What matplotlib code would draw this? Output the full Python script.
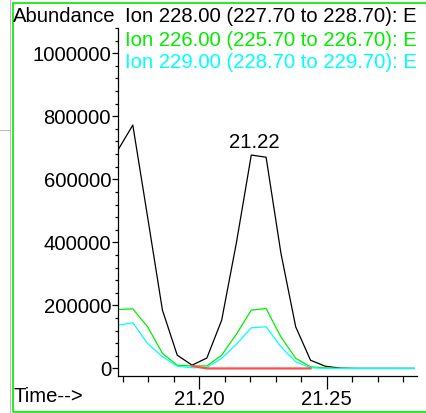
import numpy as np
import matplotlib
matplotlib.use('Agg')
import matplotlib.pyplot as plt
from matplotlib.ticker import MultipleLocator, FormatStrFormatter
from matplotlib.lines import Line2D
from matplotlib.patches import Rectangle

plt.rcParams['font.family'] = ['Liberation Sans', 'DejaVu Sans']

# Retention times (min) of the scans
time = [21.1682, 21.1740, 21.1798, 21.1856, 21.1914, 21.1972, 21.2030,
        21.2088, 21.2146, 21.2204, 21.2262, 21.2320, 21.2378, 21.2436,
        21.2494, 21.2552, 21.2610, 21.2668, 21.2726, 21.2784, 21.2842]

# Extracted ion abundances
ion_228 = [693000, 772000, 480000, 185000, 42000, 10500, 33000, 153000,
           400000, 677000, 670000, 366000, 132000, 26000, 7000, 1000,
           0, 0, 0, 0, 0]
ion_226 = [187000, 189000, 132000, 48000, 10000, 8000, 8000, 42000,
           109000, 185000, 190000, 100000, 32000, 5000, 2000, 0,
           0, 0, 0, 0, 0]
ion_229 = [137000, 145000, 79000, 37000, 7000, 2000, 3000, 32000,
           77000, 129000, 132000, 69000, 21000, 2000, 0, 0,
           0, 0, 0, 0, 0]
ion_other = [np.nan, np.nan, np.nan, np.nan, np.nan, 8000, 0, 0, 0, 0, 0,
             0, 0, 0, np.nan, np.nan, np.nan, np.nan, np.nan, np.nan, np.nan]

legend_labels = ['Ion 228.00 (227.70 to 228.70): E',
                 'Ion 226.00 (225.70 to 226.70): E',
                 'Ion 229.00 (228.70 to 229.70): E']
peak_label = '21.22'
peak_idx = 9

W, H = 426, 413
fig = plt.figure(figsize=(W / 100, H / 100), dpi=100, facecolor='white')
ax = fig.add_axes([118 / W, 1 - 376 / H, 299 / W, 348 / H])

fs = 14.6
ax.plot(time, ion_228, color='black', lw=0.9)
ax.plot(time, ion_226, color='#00ee00', lw=0.9)
ax.plot(time, ion_229, color='#00ffff', lw=0.9)
ax.plot(time, ion_other, color='#ff5050', lw=1.6)

ax.set_xlim(21.1682, 21.2853)
ax.set_ylim(-24000, 1080000)

# Only the left and bottom axis lines
for s in ['top', 'right']:
    ax.spines[s].set_visible(False)
for s in ['left', 'bottom']:
    ax.spines[s].set_linewidth(0.9)

ax.xaxis.set_major_locator(MultipleLocator(0.05))
ax.xaxis.set_minor_locator(MultipleLocator(0.01))
ax.xaxis.set_major_formatter(FormatStrFormatter('%.2f'))
ax.yaxis.set_major_locator(MultipleLocator(200000))
ax.yaxis.set_minor_locator(MultipleLocator(40000))
ax.yaxis.set_major_formatter(FormatStrFormatter('%d'))
ax.tick_params(axis='x', which='major', length=9, width=0.9, pad=1, labelsize=fs)
ax.tick_params(axis='x', which='minor', length=4.5, width=0.9)
ax.tick_params(axis='y', which='major', length=4, width=0.9, pad=1, labelsize=fs)
ax.tick_params(axis='y', which='minor', length=2, width=0.9)

# Peak label
ax.annotate(peak_label, (time[peak_idx], ion_228[peak_idx]), xytext=(2, 2),
            textcoords='offset points', ha='center', va='bottom', fontsize=fs)

# Header, legend and x label as plain figure text
fig.text(13 / W, 1 - 16 / H, 'Abundance', fontsize=fs, va='center', ha='left')
fig.text(13 / W, 1 - 397 / H, 'Time-->', fontsize=fs, va='center', ha='left')
for lab, col, yy in zip(legend_labels, ['black', '#00ee00', '#00ffff'], [17, 40, 62]):
    fig.text(125 / W, 1 - yy / H, lab, fontsize=fs, va='center', ha='left', color=col)

# Green frame and grey guide lines around the panel
fig.patches.append(Rectangle((12.5 / W, 1.5 / H), (W + 5) / W, (H - 4) / H,
                             transform=fig.transFigure, fill=False,
                             edgecolor='#22ee22', lw=1.4))
fig.lines.append(Line2D([10 / W, 10 / W], [0, 1], transform=fig.transFigure,
                        color='#bbbbbb', lw=0.7))
fig.lines.append(Line2D([0, 10 / W], [1 - 130 / H, 1 - 130 / H],
                        transform=fig.transFigure, color='#bbbbbb', lw=0.7))

fig.savefig('out.png', dpi=100)
